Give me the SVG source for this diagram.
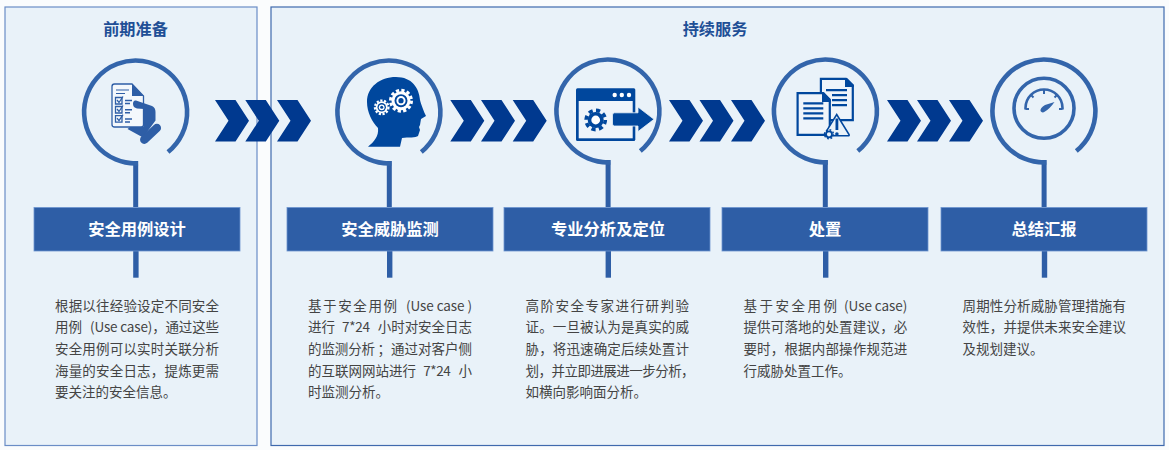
<svg xmlns="http://www.w3.org/2000/svg" xmlns:xlink="http://www.w3.org/1999/xlink" width="1169" height="450" viewBox="0 0 1169 450">
<style>
text{font-family:"Noto Sans CJK SC","Noto Sans",sans-serif}
.panel{fill:#e9f2f9;stroke:#3e69ad;stroke-width:1.2}
.head{font-size:16.2px;font-weight:700;fill:#1f4f96;text-anchor:middle}
.bar{fill:#2e5ea6;stroke:#6d95cf;stroke-width:.8}
.bt{font-size:16.3px;font-weight:700;fill:#fff;text-anchor:middle}
.b{font-size:13.5px;fill:#444}
.ring{fill:none;stroke:#3365ab;stroke-width:4.6}
.stem{fill:#2e5ea6}
.chev{fill:#00398f}
.i{fill:#00479d}
.il{stroke:#00479d;stroke-width:2.2;fill:#eef4fa}
.ih{fill:none;stroke:#2e5ea6}
</style>
<defs>
<path id="arc" class="ring" d="M2.3 51.4A51.5 51.5 0 1 1 32.3 40"/>
<polygon id="ch" class="chev" points="0,0 20.5,0 34,20.8 20.5,41.6 0,41.6 13.5,20.8"/>
</defs>
<rect width="1169" height="450" fill="#fafcfd"/>
<rect class="panel" x="5" y="7" width="252" height="438.5" style="stroke:#6a8dc6"/>
<rect class="panel" x="271" y="7" width="893" height="438.5"/>
<text class="head" x="135.5" y="35">前期准备</text>
<text class="head" x="715" y="35">持续服务</text>

<g id="connectors">
<use xlink:href="#ch" href="#ch" x="215" y="100"/><use xlink:href="#ch" href="#ch" x="245.3" y="100"/><use xlink:href="#ch" href="#ch" x="277" y="100"/>
<use xlink:href="#ch" href="#ch" x="450.3" y="100"/><use xlink:href="#ch" href="#ch" x="481" y="100"/><use xlink:href="#ch" href="#ch" x="512.7" y="100"/>
<use xlink:href="#ch" href="#ch" x="669" y="100"/><use xlink:href="#ch" href="#ch" x="699.5" y="100"/><use xlink:href="#ch" href="#ch" x="731" y="100"/>
<use xlink:href="#ch" href="#ch" x="887" y="100"/><use xlink:href="#ch" href="#ch" x="917" y="100"/><use xlink:href="#ch" href="#ch" x="949" y="100"/>
<rect class="stem" x="133.2" y="161" width="5" height="46"/><rect class="stem" x="133.2" y="251" width="5.4" height="26.7"/>
<rect class="stem" x="386.8" y="161" width="5" height="46"/><rect class="stem" x="387" y="251" width="5.4" height="26.7"/>
<rect class="stem" x="605.6" y="160" width="5" height="47"/><rect class="stem" x="605.6" y="251" width="5.4" height="26.7"/>
<rect class="stem" x="822.8" y="160" width="5" height="47"/><rect class="stem" x="823" y="251" width="5.4" height="26.7"/>
<rect class="stem" x="1041.6" y="160" width="5" height="47"/><rect class="stem" x="1041.8" y="251" width="5.4" height="26.7"/>
</g>

<g id="node-design">
<use xlink:href="#arc" href="#arc" x="135.7" y="112"/>
<path d="M112 86.5q0-2.5 2.5-2.5H132L143.5 96V124.5q0 2.5-2.5 2.5H114.5q-2.5 0-2.5-2.5Z" fill="#f4f8fc" stroke="#2e5ea6" stroke-width="1.3"/>
<path d="M132 84V96H143.5Z" fill="#2e5ea6"/>
<path class="ih" stroke-width="1.2" d="M116 90H129M116 93.5H125"/>
<path class="ih" stroke-width="1.3" d="M115.500 97.500h6.500v6.500h-6.500ZM115.500 106.500h6.500v6.500h-6.500ZM115.500 115.700h6.500v6.500h-6.500Z"/>
<path class="ih" stroke-width="1.3" d="M117 100l2 2.500 4-6M117 109l2 2.500 4-6M117 118.200l2 2.500 4-6"/>
<path class="ih" stroke-width="1.5" d="M125 100.500h7M125 103.500h5M125 109.700h7M125 112.700h5M125 119h7M125 122h5"/>
<path d="M136 100.500L152 106Q155.500 107.500 155.500 112V120.500L143 137.500 127.500 129 130 127H141.500Q144 127 144 124.500V109L137 108.500Q133 107.500 133 104 133 100 136 100.500Z" fill="#2e5ea6"/>
<line x1="144.300" y1="139.700" x2="156.800" y2="128" stroke="#2e5ea6" stroke-width="8.500" stroke-linecap="round"/>
<rect class="bar" x="34" y="207.500" width="206" height="43.500"/>
<text class="bt" x="137" y="234.500">安全用例设计</text>
<text class="b" x="55" y="310.700" textLength="164">根据以往经验设定不同安全</text>
<text class="b" x="55" y="332.300" textLength="27">用例</text>
<text class="b" x="90" y="332.300" textLength="129">(Use case)，通过这些</text>
<text class="b" x="55" y="354" textLength="164">安全用例可以实时关联分析</text>
<text class="b" x="55" y="375.700" textLength="164">海量的安全日志，提炼更需</text>
<text class="b" x="55" y="397.400">要关注的安全信息。</text>
</g>

<g id="node-monitor">
<use xlink:href="#arc" href="#arc" x="389" y="112"/>
<path class="i" d="M368 146.700C374 142 379 136 378 128 372 122 367 112 367 102 367 87 380 77 396 77 412 77 419 88 420 100 421 104 424 112 426 116L421 119 420 125 419 127 420 130 418 136C416 138 408 137 402 138L400 146.700Z"/>
<circle cx="401" cy="100.700" r="9.500" fill="#fff"/>
<circle cx="401" cy="100.700" r="10.500" fill="none" stroke="#fff" stroke-width="3" stroke-dasharray="3.200 2.300"/>
<circle cx="401" cy="100.700" r="6.500" class="i"/><circle cx="401" cy="100.700" r="4.600" fill="#fff"/><circle cx="401" cy="100.700" r="2.600" class="i"/>
<circle cx="381.700" cy="107.300" r="6" fill="#fff"/>
<circle cx="381.700" cy="107.300" r="6.800" fill="none" stroke="#fff" stroke-width="2.200" stroke-dasharray="2.200 1.600"/>
<circle cx="381.700" cy="107.300" r="4.200" class="i"/><circle cx="381.700" cy="107.300" r="2.900" fill="#fff"/><circle cx="381.700" cy="107.300" r="1.500" class="i"/>
<rect class="bar" x="287" y="207.500" width="206" height="43.500"/>
<text class="bt" x="390" y="234.500">安全威胁监测</text>
<text class="b" x="308" y="310.700" textLength="89">基于安全用例</text>
<text class="b" x="406" y="310.700" textLength="66">(Use case )</text>
<text class="b" x="308" y="332.300" textLength="27">进行</text>
<text class="b" x="342" y="332.300" textLength="28">7*24</text>
<text class="b" x="377.700" y="332.300" textLength="94.300">小时对安全日志</text>
<text class="b" x="308" y="354" textLength="67">的监测分析</text>
<text class="b" x="377.400" y="354">；</text>
<text class="b" x="391" y="354" textLength="81">通过对客户侧</text>
<text class="b" x="308" y="375.700" textLength="108">的互联网网站进行</text>
<text class="b" x="423.300" y="375.700" textLength="27.500">7*24</text>
<text class="b" x="458.500" y="375.700">小</text>
<text class="b" x="308" y="397.400">时监测分析。</text>
</g>

<g id="node-analysis">
<use xlink:href="#arc" href="#arc" x="608" y="111"/>
<rect class="i" x="576" y="88.300" width="59.300" height="52.700" rx="1.500"/>
<rect x="578.700" y="101" width="54" height="37.300" fill="#eef4fa"/>
<circle cx="614.700" cy="95" r="2.200" fill="#fff"/><circle cx="621.800" cy="95" r="2.200" fill="#fff"/><circle cx="629" cy="95" r="2.200" fill="#fff"/>
<circle cx="595.700" cy="120" r="8" class="i"/>
<circle cx="595.700" cy="120" r="9.600" fill="none" stroke="#00479d" stroke-width="3.600" stroke-dasharray="4.200 3.340"/>
<circle cx="595.700" cy="120" r="4.400" fill="#fff"/>
<path class="i" d="M614.500 112.800H638V107L654 119.300 638 131.600V126H614.500Q612.500 126 612.500 124V115Q612.500 112.800 614.500 112.800Z" stroke="#e9f2f9" stroke-width=".8"/>
<rect class="bar" x="504" y="207.500" width="206" height="43.500"/>
<text class="bt" x="608" y="234.500">专业分析及定位</text>
<text class="b" x="525.600" y="310.700" textLength="163.400">高阶安全专家进行研判验</text>
<text class="b" x="525.600" y="332.300" textLength="163.400">证。一旦被认为是真实的威</text>
<text class="b" x="525.600" y="354" textLength="163.400">胁，将迅速确定后续处置计</text>
<text class="b" x="525.600" y="375.700" textLength="169">划，并立即进展进一步分析，</text>
<text class="b" x="525.600" y="397.400">如横向影响面分析。</text>
</g>

<g id="node-response">
<use xlink:href="#arc" href="#arc" x="825.500" y="111"/>
<path class="il" d="M820.900 78.900H846L852.800 85.500V120.100H820.900Z"/>
<path class="i" d="M845 78H847L853.700 84.700V87H845Z"/>
<path class="i" d="M826 89h21v2.200h-21ZM832 94h15v2.200h-15ZM832 99h15v2.200h-15ZM832 104h15v2.200h-15Z"/>
<path class="il" d="M797.600 93.200H823L829.800 100V134.800H797.600Z"/>
<path class="i" d="M822 92.300H824L830.500 99V102H822Z"/>
<path class="i" d="M803.300 102.300h20v2.300h-20ZM803.300 107.300h20v2.300h-20ZM803.300 112.300h20v2.300h-20ZM803.300 117.300h20v2.300h-20Z"/>
<path d="M836.700 114.500L849 134.500Q849.800 135.800 848 135.800H829L826.500 131Z" fill="#e9f2f9" stroke="#00479d" stroke-width="1.500"/>
<rect class="i" x="835.500" y="118.500" width="2.800" height="11.500"/><circle class="i" cx="836.900" cy="134" r="1.800"/>
<circle cx="829" cy="134.300" r="3" fill="#e9f2f9" stroke="#00479d" stroke-width="1.800"/>
<circle cx="829" cy="134.300" r="4.500" fill="none" stroke="#00479d" stroke-width="1.500" stroke-dasharray="1.800 1.730"/>
<rect class="bar" x="722" y="207.500" width="206" height="43.500"/>
<text class="bt" x="825" y="234.500">处置</text>
<text class="b" x="743.400" y="310.700" textLength="93.600">基于安全用例</text>
<text class="b" x="844" y="310.700" textLength="63.300">(Use case)</text>
<text class="b" x="743.400" y="332.300" textLength="163.900">提供可落地的处置建议，必</text>
<text class="b" x="743.400" y="354" textLength="163.900">要时，根据内部操作规范进</text>
<text class="b" x="743.400" y="375.700">行威胁处置工作。</text>
</g>

<g id="node-report">
<use xlink:href="#arc" href="#arc" x="1044" y="111"/>
<circle cx="1044" cy="108.300" r="30" fill="none" stroke="#3365ab" stroke-width="3.600"/>
<path d="M1025.500 109.500V108A18.500 18.500 0 0 1 1062.500 108V109.500" fill="none" stroke="#3365ab" stroke-width="2.600"/>
<path d="M1044 89.500V94M1030.500 94.500L1033.500 97.500M1057.500 94.500L1054.500 97.500M1025.500 109H1029M1062.500 109H1059" fill="none" stroke="#3365ab" stroke-width="2"/>
<path d="M1054.500 102L1045 105Q1040 108 1040.500 111 1042 113.500 1045 111.500Q1050 108.500 1054.500 102Z" fill="#3365ab"/>
<rect class="bar" x="941" y="207.500" width="206" height="43.500"/>
<text class="bt" x="1044" y="234.500">总结汇报</text>
<text class="b" x="962.600" y="310.700" textLength="163.400">周期性分析威胁管理措施有</text>
<text class="b" x="962.600" y="332.300" textLength="163.400">效性，并提供未来安全建议</text>
<text class="b" x="962.600" y="354">及规划建议。</text>
</g>
</svg>
